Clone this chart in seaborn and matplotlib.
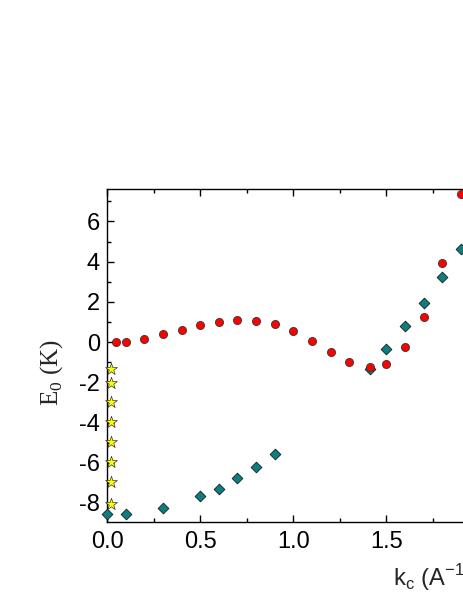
import matplotlib
matplotlib.use("Agg")
import matplotlib.pyplot as plt
import seaborn as sns
import pandas as pd
from matplotlib.ticker import MultipleLocator, FormatStrFormatter

# Data
red_k = [0.05, 0.1, 0.2, 0.3, 0.4, 0.5, 0.6, 0.7, 0.8, 0.9, 1.0, 1.1, 1.2, 1.3, 1.41, 1.5, 1.6, 1.7, 1.8, 1.9]
red_E = [0.0, 0.02, 0.18, 0.4, 0.58, 0.86, 1.02, 1.11, 1.06, 0.88, 0.56, 0.05, -0.48, -1.0, -1.24, -1.08, -0.22, 1.27, 3.95, 7.35]

teal_k = [0.0, 0.1, 0.3, 0.5, 0.6, 0.7, 0.8, 0.9, 1.41, 1.5, 1.6, 1.7, 1.8, 1.9]
teal_E = [-8.55, -8.55, -8.23, -7.64, -7.28, -6.77, -6.2, -5.57, -1.33, -0.35, 0.78, 1.96, 3.26, 4.64]

star_k = [0.02, 0.02, 0.02, 0.02, 0.02, 0.02, 0.02, 0.02]
star_E = [-1.33, -2.02, -3.0, -3.98, -4.96, -5.96, -6.97, -8.05]

sns.set_style("ticks")
plt.rcParams['font.family'] = ['Liberation Sans', 'DejaVu Sans']
plt.rcParams['axes.unicode_minus'] = False

W, H = 463, 599
fig = plt.figure(figsize=(W / 100, H / 100), dpi=100)
left_px, right_px, top_px, bot_px = 107, 107 + 3.5 * 186.3, 189.3, 521.7
ax = fig.add_axes([left_px / W, 1 - bot_px / H, (right_px - left_px) / W, (bot_px - top_px) / H])

df_red = pd.DataFrame({"k": red_k, "E": red_E})
df_teal = pd.DataFrame({"k": teal_k, "E": teal_E})
df_star = pd.DataFrame({"k": star_k, "E": star_E})

sns.scatterplot(data=df_teal, x="k", y="E", ax=ax, marker="D", s=30, color="#0b7f80",
                edgecolor="#1a1a1a", linewidth=0.6, zorder=3, clip_on=False)
sns.scatterplot(data=df_red, x="k", y="E", ax=ax, marker="o", s=34, color="#ff0000",
                edgecolor="#333333", linewidth=0.6, zorder=4, clip_on=False)
sns.scatterplot(data=df_star, x="k", y="E", ax=ax, marker="*", s=80, color="#ffff00",
                edgecolor="#333333", linewidth=0.5, zorder=5, clip_on=False)

ax.set_xlim(0, 3.5)
ax.set_ylim(-8.93, 7.6)
ax.xaxis.set_major_locator(MultipleLocator(0.5))
ax.xaxis.set_minor_locator(MultipleLocator(0.25))
ax.yaxis.set_major_locator(MultipleLocator(2))
ax.yaxis.set_minor_locator(MultipleLocator(1))
ax.xaxis.set_major_formatter(FormatStrFormatter('%.1f'))

ax.tick_params(which="both", direction="in", top=True, right=True, colors="black")
ax.tick_params(which="major", length=5, width=1.0, labelsize=17)
ax.tick_params(axis="x", which="major", pad=7)
ax.tick_params(axis="y", which="major", pad=5)
ax.tick_params(which="minor", length=3, width=1.0)
for sp in ax.spines.values():
    sp.set_linewidth(1.0)
    sp.set_color("black")

ax.set_xlabel(r"k$_\mathregular{c}$ (A$^\mathregular{-1}$)", fontsize=17, labelpad=6)
ax.set_ylabel(r"E$_\mathregular{0}$ (K)", fontsize=18, family=["Liberation Serif", "DejaVu Serif"])
ax.yaxis.set_label_coords(-0.064, 0.45)

fig.savefig("out.png", dpi=100)
